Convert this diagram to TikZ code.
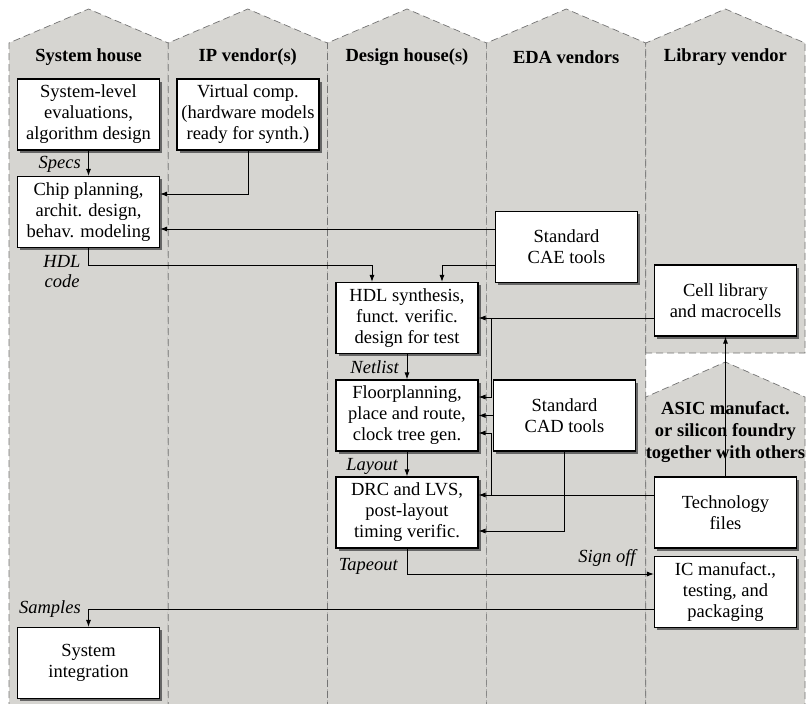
\documentclass[tikz,border=0pt]{standalone}
\usepackage{fontspec}
\setmainfont{Liberation Serif}
\usetikzlibrary{arrows.meta,shadows,calc}
\definecolor{lanefill}{RGB}{214,213,209}
\definecolor{lanedash}{RGB}{115,115,115}
\begin{document}
\begin{tikzpicture}[x=1pt,y=-1pt,
  lane/.style={fill=lanefill, draw=lanedash, dash pattern=on 7pt off 4pt, line width=0.7pt},
  box/.style={draw=black, fill=white, line width=1.1pt, minimum width=142pt, minimum height=71pt,
    align=center, inner sep=2pt, font=\fontsize{18.5}{21}\selectfont,
    drop shadow={shadow xshift=2.5pt, shadow yshift=-2.5pt, fill=black!60, opacity=1}},
  hdr/.style={font=\fontsize{18.5}{22}\selectfont\bfseries, align=center, inner sep=0pt},
  lbl/.style={font=\fontsize{18.5}{20}\selectfont\itshape, inner sep=0pt},
  arr/.style={-{Latex[length=7pt,width=5pt]}, line width=0.9pt}]
\useasboundingbox (0,0) rectangle (806,704);
\clip (0,0) rectangle (806,704);
% lanes
\foreach \k in {0,...,3}{
  \pgfmathsetmacro\xa{9+159.2*\k}
  \pgfmathsetmacro\xb{\xa+159.2}
  \pgfmathsetmacro\xc{\xa+79.6}
  \path[lane] (\xa,720) -- (\xa,43) -- (\xc,9) -- (\xb,43) -- (\xb,720);
}
\path[lane] (645.8,353) -- (645.8,43) -- (725.4,9) -- (805,43) -- (805,353) -- cycle;
\path[lane] (645.8,720) -- (645.8,397) -- (725.4,362) -- (805,397) -- (805,720);
% headers
\node[hdr] (h1) at (88.6,57) {System house};
\node[hdr] (h2) at (247.8,57) {IP vendor(s)};
\node[hdr] (h3) at (407,57) {Design house(s)};
\node[hdr] (h4) at (566.2,57) {EDA vendors};
\node[hdr] (h5) at (725.4,57) {Library vendor};
\node[hdr] (h6) at (725.4,432) {ASIC manufact.\\or silicon foundry\\together with others};
% boxes
\node[box] (sle) at (88.5,114.5) {System-level\\evaluations,\\algorithm design};
\node[box] (vc) at (248,114.5) {Virtual comp.\\(hardware models\\ready for synth.)};
\node[box] (cp) at (88.5,212) {Chip planning,\\archit. design,\\behav. modeling};
\node[box] (cae) at (566.5,247) {Standard\\CAE tools};
\node[box] (hdl) at (407,318) {HDL synthesis,\\funct. verific.\\design for test};
\node[box] (cell) at (725.5,300.5) {Cell library\\and macrocells};
\node[box] (fp) at (407,415.5) {Floorplanning,\\place and route,\\clock tree gen.};
\node[box] (cad) at (564.5,415.5) {Standard\\CAD tools};
\node[box] (drc) at (407,512.5) {DRC and LVS,\\post-layout\\timing verific.};
\node[box] (tech) at (725.5,512.5) {Technology\\files};
\node[box] (ic) at (725.5,592) {IC manufact.,\\testing, and\\packaging};
\node[box] (si) at (88.5,663) {System\\integration};
% connectors
\draw[arr] (sle) -- (cp);
\node[lbl, anchor=east] (lspecs) at (81,164) {Specs};
\draw[arr] (vc.south) |- ([yshift=18pt]cp.east);
\draw[arr] ([yshift=18pt]cae.west) -- ([yshift=18pt]cae.west -| cp.east);
\draw[arr] (cp.south) -- ++(0,17) -| ([xshift=-35pt]hdl.north);
\node[lbl, align=center] (lhdl) at (62,272) {HDL\\code};
\draw[arr] ([yshift=-18pt]cae.west) -| ([xshift=35pt]hdl.north);
\draw[arr] (cell.west |- hdl.east) -- (hdl.east);
\draw[arr] ([xshift=13pt]hdl.east) |- ([yshift=18.5pt]fp.east);
\draw[arr] (cad.west) -- (fp.east);
\draw[arr] ([yshift=17.5pt]tech.west) -- ([yshift=17.5pt]drc.east);
\draw[arr] ([xshift=13pt,yshift=17.5pt]drc.east) |- ([yshift=-17.5pt]fp.east);
\draw[arr] (cad.south) |- ([yshift=-18.5pt]drc.east);
\draw[arr] (tech) -- (cell);
\draw[arr] (hdl) -- (fp);
\node[lbl, anchor=east] (lnet) at (399,367) {Netlist};
\draw[arr] (fp) -- (drc);
\node[lbl, anchor=east] (llay) at (398,466) {Layout};
\draw[arr] (drc.south) |- ([yshift=18pt]ic.west);
\node[lbl, anchor=east] (ltape) at (398,566) {Tapeout};
\node[lbl] (lsign) at (607,558) {Sign off};
\draw[arr] ([yshift=-17pt]ic.west) -| (si.north);
\node[lbl, anchor=east] (lsamp) at (81,609) {Samples};
\end{tikzpicture}
\end{document}
